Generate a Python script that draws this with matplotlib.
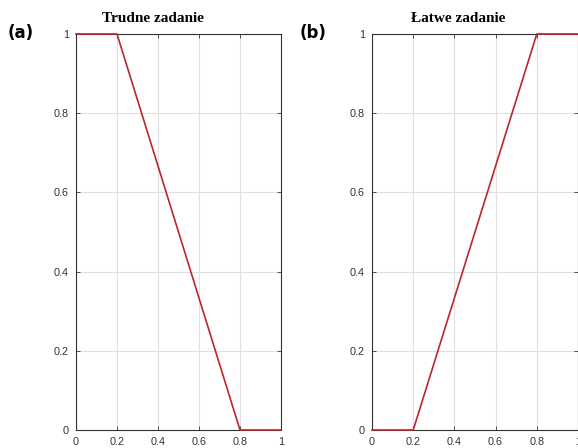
import numpy as np
import matplotlib.pyplot as plt

# data
x_pts = [0, 0.2, 0.8, 1]
y_trudne = [1, 1, 0, 0]
y_latwe = [0, 0, 1, 1]
ticks = [0, 0.2, 0.4, 0.6, 0.8, 1]
tick_labels = ['0', '0.2', '0.4', '0.6', '0.8', '1']

fig = plt.figure(figsize=(5.78, 4.48), dpi=100)
W, H = 578, 448

def make_axes(left_px, right_px):
    return fig.add_axes([left_px / W, (H - 430) / H, (right_px - left_px) / W, 396 / H])

panels = [
    (make_axes(76, 281), y_trudne, 'Trudne zadanie', 153, '(a)', 8),
    (make_axes(372, 578), y_latwe, 'Łatwe zadanie', 458, '(b)', 300),
]

for ax, yv, title, tx, lab, lx in panels:
    ax.plot(x_pts, yv, color='#b8282a', lw=1.2, clip_on=False, zorder=5)
    ax.set_xlim(0, 1)
    ax.set_ylim(0, 1)
    ax.set_xticks(ticks)
    ax.set_xticklabels(tick_labels)
    ax.set_yticks(ticks)
    ax.set_yticklabels(tick_labels)
    ax.grid(True, color='#e0e0e0', lw=0.8)
    ax.tick_params(direction='in', length=3, width=0.6, top=True, right=True,
                   labelsize=7.8, labelcolor='#333333', color='#333333', pad=5)
    for lbl in ax.get_xticklabels() + ax.get_yticklabels():
        lbl.set_family('Liberation Sans')
    for s in ax.spines.values():
        s.set_linewidth(0.8)
        s.set_color('#333333')
    fig.text(tx / W, 1 - 19 / H, title, ha='center', va='center',
             family='Liberation Serif', weight='bold', fontsize=11)
    fig.text(lx / W, 1 - 33 / H, lab, ha='left', va='center',
             family='DejaVu Sans', weight='bold', fontsize=12)

fig.savefig('out.png', dpi=100)
